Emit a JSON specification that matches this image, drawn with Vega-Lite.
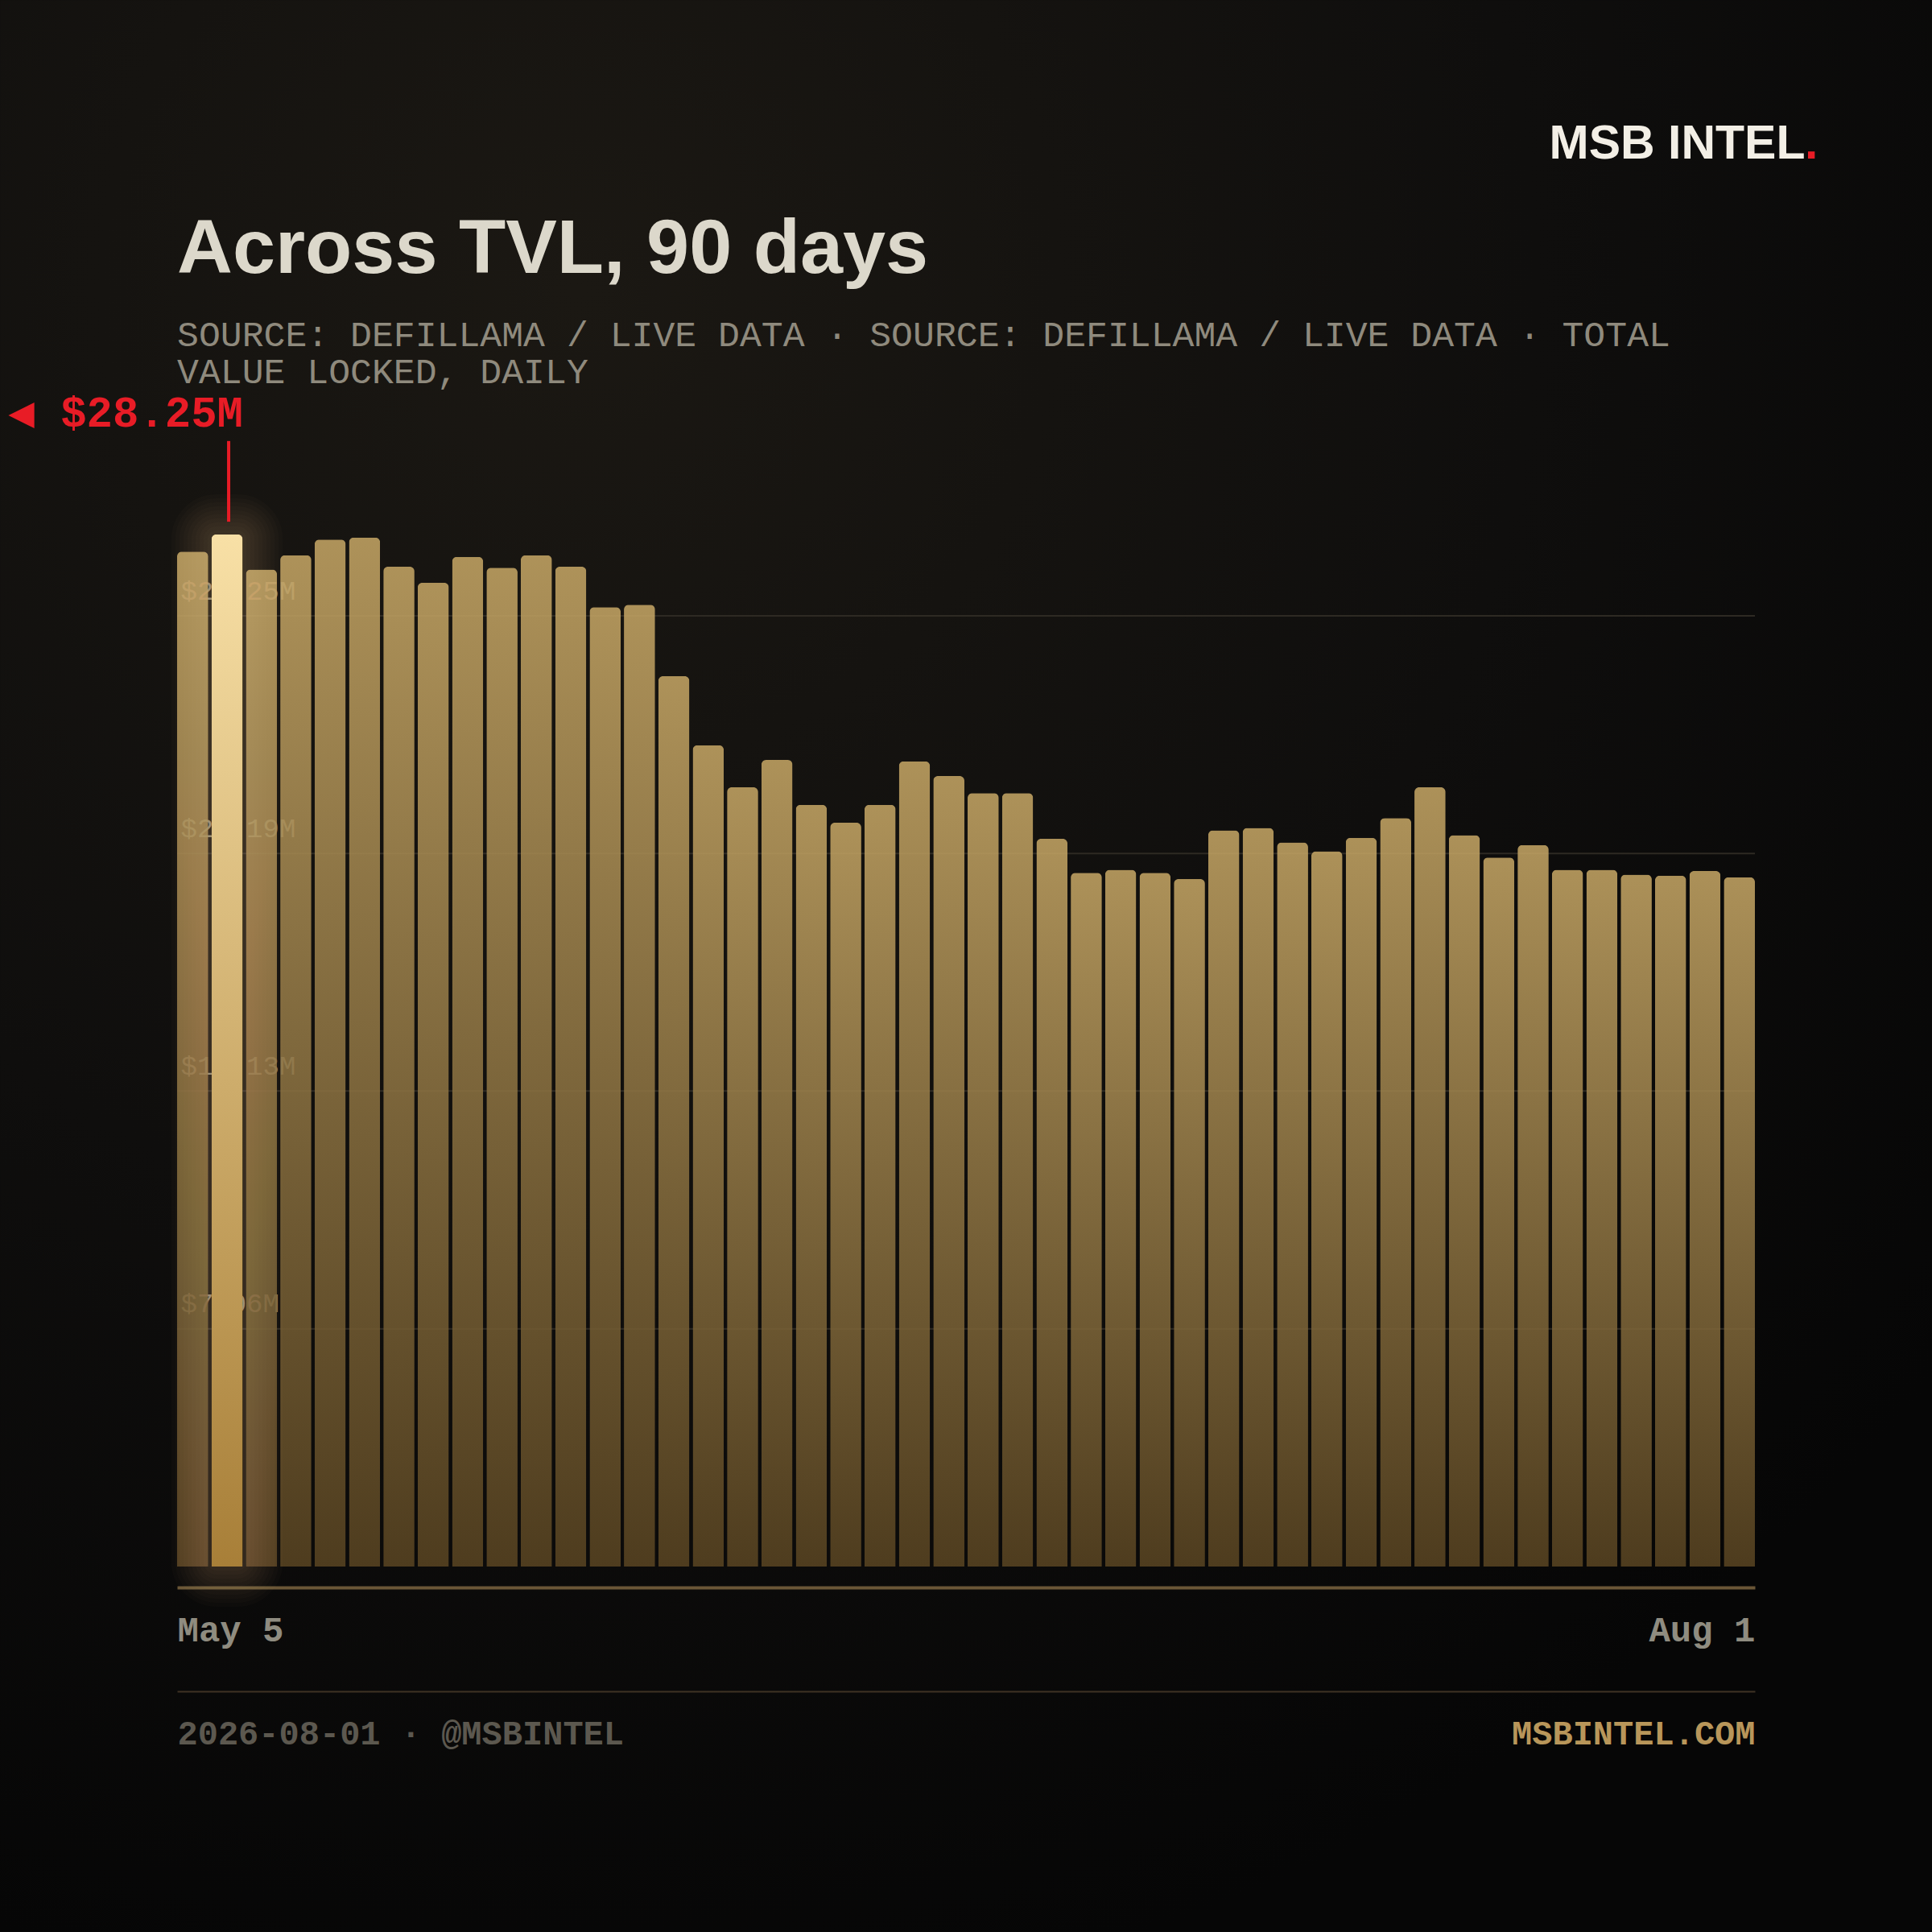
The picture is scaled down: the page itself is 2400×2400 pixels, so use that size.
{
  "$schema": "https://vega.github.io/schema/vega-lite/v6.json",
  "width": 2400,
  "height": 2400,
  "padding": 0,
  "autosize": {"type": "none"},
  "background": "#060606",
  "view": {
    "stroke": null,
    "fill": {
      "gradient": "radial",
      "x1": 0.3, "y1": 0.15, "r1": 0,
      "x2": 0.3, "y2": 0.15, "r2": 0.9,
      "stops": [
        {"offset": 0, "color": "#1b1813"},
        {"offset": 0.55, "color": "#0f0e0d"},
        {"offset": 1, "color": "#060606"}
      ]
    }
  },
  "title": {
    "text": "Across TVL, 90 days",
    "subtitle": ["SOURCE: DEFILLAMA / LIVE DATA · SOURCE: DEFILLAMA / LIVE DATA · TOTAL", "VALUE LOCKED, DAILY"],
    "anchor": "start",
    "frame": "group",
    "font": "Liberation Sans",
    "fontSize": 95.4,
    "fontWeight": "bold",
    "color": "#dcd8cb",
    "subtitleFont": "Liberation Mono",
    "subtitleFontSize": 44.8,
    "subtitleColor": "#8f8a7d",
    "subtitleLineHeight": 46,
    "subtitlePadding": 36,
    "offset": 0,
    "dx": 220,
    "dy": 486
  },
  "datasets": {
    "tvl": [
      {"day": "2026-05-05", "tvl": 27.78},
      {"day": "2026-05-07", "tvl": 28.25},
      {"day": "2026-05-09", "tvl": 27.29},
      {"day": "2026-05-11", "tvl": 27.68},
      {"day": "2026-05-13", "tvl": 28.11},
      {"day": "2026-05-15", "tvl": 28.17},
      {"day": "2026-05-17", "tvl": 27.37},
      {"day": "2026-05-19", "tvl": 26.93},
      {"day": "2026-05-21", "tvl": 27.64},
      {"day": "2026-05-23", "tvl": 27.34},
      {"day": "2026-05-25", "tvl": 27.68},
      {"day": "2026-05-27", "tvl": 27.37},
      {"day": "2026-05-29", "tvl": 26.26},
      {"day": "2026-05-31", "tvl": 26.33},
      {"day": "2026-06-02", "tvl": 24.37},
      {"day": "2026-06-04", "tvl": 22.48},
      {"day": "2026-06-06", "tvl": 21.33},
      {"day": "2026-06-08", "tvl": 22.08},
      {"day": "2026-06-10", "tvl": 20.85},
      {"day": "2026-06-12", "tvl": 20.36},
      {"day": "2026-06-14", "tvl": 20.85},
      {"day": "2026-06-16", "tvl": 22.04},
      {"day": "2026-06-18", "tvl": 21.64},
      {"day": "2026-06-20", "tvl": 21.17},
      {"day": "2026-06-22", "tvl": 21.17},
      {"day": "2026-06-24", "tvl": 19.92},
      {"day": "2026-06-26", "tvl": 18.99},
      {"day": "2026-06-28", "tvl": 19.07},
      {"day": "2026-06-30", "tvl": 18.99},
      {"day": "2026-07-02", "tvl": 18.82},
      {"day": "2026-07-04", "tvl": 20.15},
      {"day": "2026-07-06", "tvl": 20.22},
      {"day": "2026-07-08", "tvl": 19.82},
      {"day": "2026-07-10", "tvl": 19.58},
      {"day": "2026-07-12", "tvl": 19.95},
      {"day": "2026-07-14", "tvl": 20.49},
      {"day": "2026-07-16", "tvl": 21.33},
      {"day": "2026-07-18", "tvl": 20.02},
      {"day": "2026-07-20", "tvl": 19.41},
      {"day": "2026-07-22", "tvl": 19.75},
      {"day": "2026-07-24", "tvl": 19.07},
      {"day": "2026-07-26", "tvl": 19.07},
      {"day": "2026-07-28", "tvl": 18.94},
      {"day": "2026-07-30", "tvl": 18.91},
      {"day": "2026-07-31", "tvl": 19.04},
      {"day": "2026-08-01", "tvl": 18.87}
    ]
  },
  "layer": [
    {
      "data": {"values": [
        {"level": 7.06, "stamp": "May 5", "stamp_end": "Aug 1"},
        {"level": 14.13, "stamp": "May 5", "stamp_end": "Aug 1"},
        {"level": 21.19, "stamp": "May 5", "stamp_end": "Aug 1"},
        {"level": 28.25, "stamp": "May 5", "stamp_end": "Aug 1"}
      ]},
      "mark": {"type": "rule", "color": "#2e2a23", "strokeWidth": 2},
      "encoding": {
        "x": {
          "field": "stamp",
          "type": "ordinal",
          "scale": {"type": "point", "padding": 0, "domain": ["May 5", "Aug 1"], "range": [220, 2180]},
          "axis": {
            "title": null,
            "orient": "bottom",
            "offset": -428,
            "domainColor": "#6a5637",
            "domainWidth": 4,
            "ticks": false,
            "tickSize": 0,
            "labelAngle": 0,
            "labelFlush": true,
            "labelFont": "Liberation Mono",
            "labelFontSize": 44,
            "labelFontWeight": "bold",
            "labelColor": "#8f8c80",
            "labelBaseline": "alphabetic",
            "labelPadding": 66
          }
        },
        "x2": {"field": "stamp_end"},
        "y": {
          "field": "level",
          "type": "quantitative",
          "scale": {"domain": [0, 28.25], "range": [1946, 765], "nice": false},
          "axis": {
            "title": null,
            "orient": "left",
            "values": [7.06, 14.13, 21.19, 28.25],
            "labelExpr": "'$' + format(datum.value, '.2f') + 'M'",
            "labelFont": "Liberation Mono",
            "labelFontSize": 34,
            "labelColor": "#8a8578",
            "labelAlign": "left",
            "labelBaseline": "alphabetic",
            "labelPadding": -224,
            "labelOffset": -21,
            "tickSize": 0,
            "ticks": false,
            "domain": false,
            "grid": false
          }
        }
      }
    },
    {
      "data": {"values": [{"note": "2026-08-01 · @MSBINTEL"}, {"note": "MSBINTEL.COM"}]},
      "mark": {"type": "point", "opacity": 0},
      "encoding": {
        "x": {
          "field": "note",
          "type": "ordinal",
          "sort": null,
          "scale": {"type": "point", "padding": 0, "range": [220, 2180]},
          "axis": {
            "title": null,
            "orient": "bottom",
            "offset": -299,
            "domainColor": "#3f3324",
            "domainWidth": 2,
            "ticks": false,
            "tickSize": 0,
            "labelAngle": 0,
            "labelFlush": true,
            "labelLimit": 0,
            "labelFont": "Liberation Mono",
            "labelFontSize": 42,
            "labelFontWeight": "bold",
            "labelColor": {"condition": {"test": "datum.value === 'MSBINTEL.COM'", "value": "#b8965a"}, "value": "#5c584f"},
            "labelBaseline": "alphabetic",
            "labelPadding": 65
          }
        }
      }
    },
    {
      "data": {"values": [{"brand": "MSB INTEL"}, {"brand": "."}]},
      "mark": {"type": "point", "opacity": 0},
      "encoding": {
        "x": {
          "field": "brand",
          "type": "ordinal",
          "sort": null,
          "scale": {"type": "point", "padding": 0, "range": [2242, 2258]},
          "axis": {
            "title": null,
            "orient": "top",
            "offset": -196,
            "domain": false,
            "ticks": false,
            "tickSize": 0,
            "labelAngle": 0,
            "labelAlign": "right",
            "labelBound": false,
            "labelOverlap": false,
            "labelLimit": 0,
            "labelFont": "Liberation Sans",
            "labelFontSize": 59,
            "labelFontWeight": "bold",
            "labelColor": {"condition": {"test": "datum.value === '.'", "value": "#e81c26"}, "value": "#f3efe6"},
            "labelBaseline": "alphabetic",
            "labelPadding": 0
          }
        }
      }
    },
    {
      "data": {"name": "tvl"},
      "encoding": {
        "x": {
          "field": "day",
          "type": "ordinal",
          "sort": null,
          "scale": {"type": "band", "paddingInner": 0.094, "paddingOuter": 0, "range": [220, 2180]},
          "axis": null
        },
        "y": {
          "field": "tvl",
          "type": "quantitative",
          "scale": {"domain": [0, 28.25], "range": [1946, 664], "nice": false},
          "axis": null
        }
      },
      "layer": [
        {
          "mark": {
            "type": "bar",
            "cornerRadiusTopLeft": 6,
            "cornerRadiusTopRight": 6,
            "fillOpacity": 0.85,
            "color": {
              "gradient": "linear",
              "x1": 0, "y1": 0, "x2": 0, "y2": 1,
              "stops": [
                {"offset": 0, "color": "#c8a866"},
                {"offset": 1, "color": "#5a4522"}
              ]
            }
          }
        },
        {
          "transform": [{"filter": "datum.tvl === 28.25"}],
          "layer": [
            {"mark": {"type": "bar", "cornerRadius": 6, "fillOpacity": 0, "stroke": "#f4d58d", "strokeJoin": "round", "strokeOpacity": 0.018, "strokeWidth": 10}},
            {"mark": {"type": "bar", "cornerRadius": 6, "fillOpacity": 0, "stroke": "#f4d58d", "strokeJoin": "round", "strokeOpacity": 0.018, "strokeWidth": 20}},
            {"mark": {"type": "bar", "cornerRadius": 6, "fillOpacity": 0, "stroke": "#f4d58d", "strokeJoin": "round", "strokeOpacity": 0.018, "strokeWidth": 30}},
            {"mark": {"type": "bar", "cornerRadius": 6, "fillOpacity": 0, "stroke": "#f4d58d", "strokeJoin": "round", "strokeOpacity": 0.018, "strokeWidth": 40}},
            {"mark": {"type": "bar", "cornerRadius": 6, "fillOpacity": 0, "stroke": "#f4d58d", "strokeJoin": "round", "strokeOpacity": 0.018, "strokeWidth": 50}},
            {"mark": {"type": "bar", "cornerRadius": 6, "fillOpacity": 0, "stroke": "#f4d58d", "strokeJoin": "round", "strokeOpacity": 0.018, "strokeWidth": 60}},
            {"mark": {"type": "bar", "cornerRadius": 6, "fillOpacity": 0, "stroke": "#f4d58d", "strokeJoin": "round", "strokeOpacity": 0.018, "strokeWidth": 70}},
            {"mark": {"type": "bar", "cornerRadius": 6, "fillOpacity": 0, "stroke": "#f4d58d", "strokeJoin": "round", "strokeOpacity": 0.018, "strokeWidth": 80}},
            {"mark": {"type": "bar", "cornerRadius": 6, "fillOpacity": 0, "stroke": "#f4d58d", "strokeJoin": "round", "strokeOpacity": 0.018, "strokeWidth": 90}},
            {"mark": {"type": "bar", "cornerRadius": 6, "fillOpacity": 0, "stroke": "#f4d58d", "strokeJoin": "round", "strokeOpacity": 0.018, "strokeWidth": 100}},
            {
              "mark": {
                "type": "bar",
                "cornerRadiusTopLeft": 6,
                "cornerRadiusTopRight": 6,
                "color": {
                  "gradient": "linear",
                  "x1": 0, "y1": 0, "x2": 0, "y2": 1,
                  "stops": [
                    {"offset": 0, "color": "#f8e0a6"},
                    {"offset": 1, "color": "#a87f38"}
                  ]
                }
              }
            }
          ]
        },
        {
          "data": {"values": [{"day": "2026-05-07", "lead_from": 28.6, "lead_to": 30.81}]},
          "mark": {"type": "rule", "color": "#e81c26", "strokeWidth": 4, "xOffset": 2},
          "encoding": {
            "y": {"field": "lead_from", "type": "quantitative"},
            "y2": {"field": "lead_to"}
          }
        },
        {
          "data": {"values": [{"day": "2026-05-07", "lead_at": 31.2, "note": "◀ $28.25M"}]},
          "mark": {
            "type": "text",
            "font": "Liberation Mono, DejaVu Sans Mono",
            "fontSize": 54,
            "fontWeight": "bold",
            "color": "#e81c26",
            "align": "right",
            "baseline": "alphabetic",
            "dx": 20
          },
          "encoding": {
            "y": {"field": "lead_at", "type": "quantitative"},
            "text": {"field": "note"}
          }
        }
      ]
    }
  ],
  "resolve": {"scale": {"x": "independent", "y": "independent"}, "axis": {"x": "independent", "y": "independent"}}
}
